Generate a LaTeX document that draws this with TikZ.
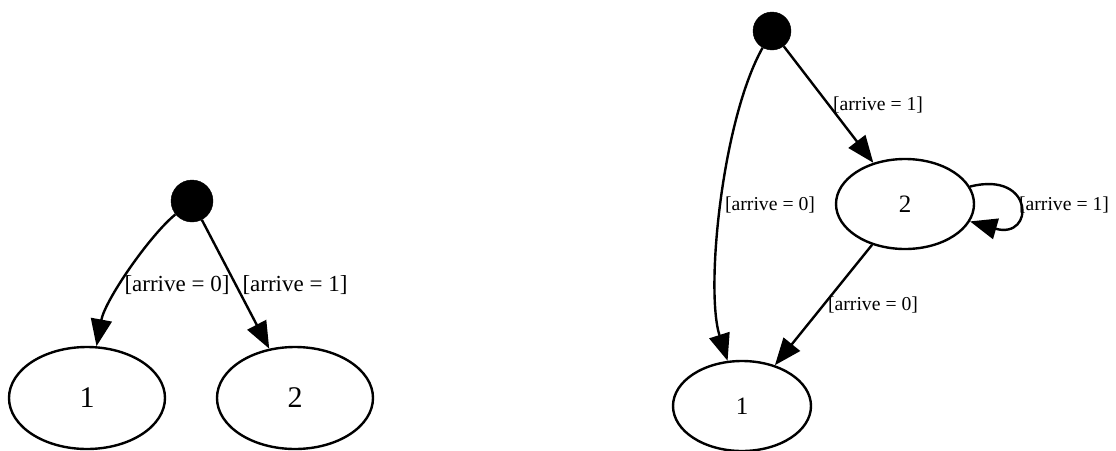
\documentclass[tikz,border=0pt]{standalone}
\usepackage{fontspec}
\setmainfont{Liberation Serif}
\usetikzlibrary{shapes.geometric,arrows.meta}
\begin{document}
\begin{tikzpicture}[x=1pt,y=-1pt,
  edge/.style={line width=2.4pt,draw=black,
    -{Triangle[length=27pt,width=21pt]}},
  startdot/.style={circle,fill=black,draw=black,minimum size=#1,inner sep=0pt},
  stateA/.style={ellipse,draw=black,line width=2.4pt,minimum width=156pt,minimum height=102pt,
    inner sep=0pt,font=\fontsize{30}{34}\selectfont},
  stateB/.style={ellipse,draw=black,line width=2.4pt,minimum width=138pt,minimum height=90pt,
    inner sep=0pt,font=\fontsize{25}{29}\selectfont},
  guardA/.style={inner sep=1pt,font=\fontsize{23}{26}\selectfont},
  guardB/.style={inner sep=1pt,font=\fontsize{19.7}{23}\selectfont}]
\useasboundingbox (0,0) rectangle (1116,450);
\fill[white] (0,0) rectangle (1116,450);

% first machine: the initial choice only
\node[startdot=42pt] (s1) at (192,201) {};
\node[stateA] (a1) at (87,398) {1};
\node[stateA] (a2) at (295,398) {2};
\draw[edge] (s1) .. controls (150,235) and (105,300) .. (a1);
\draw[edge] (s1) -- (a2);
\node[guardA] (la1) at (177,285) {[arrive = 0]};
\node[guardA] (la2) at (295,285) {[arrive = 1]};

% second machine: state 2 loops and falls back to 1
\node[startdot=38pt] (s2) at (772,31) {};
\node[stateB] (b2) at (905,204) {2};
\node[stateB] (b1) at (742,406) {1};
\draw[edge] (s2) .. controls (722,120) and (705,290) .. (b1);
\draw[edge] (s2) -- (b2);
\draw[edge] (b2) -- (b1);
\draw[edge] (b2.15) .. controls (1035,170) and (1035,240) .. (b2.-15);
\node[guardB] (lb1) at (878,105) {[arrive = 1]};
\node[guardB] (lb2) at (770,205) {[arrive = 0]};
\node[guardB] (lb3) at (1064,205) {[arrive = 1]};
\node[guardB] (lb4) at (873,305) {[arrive = 0]};
\end{tikzpicture}
\end{document}
